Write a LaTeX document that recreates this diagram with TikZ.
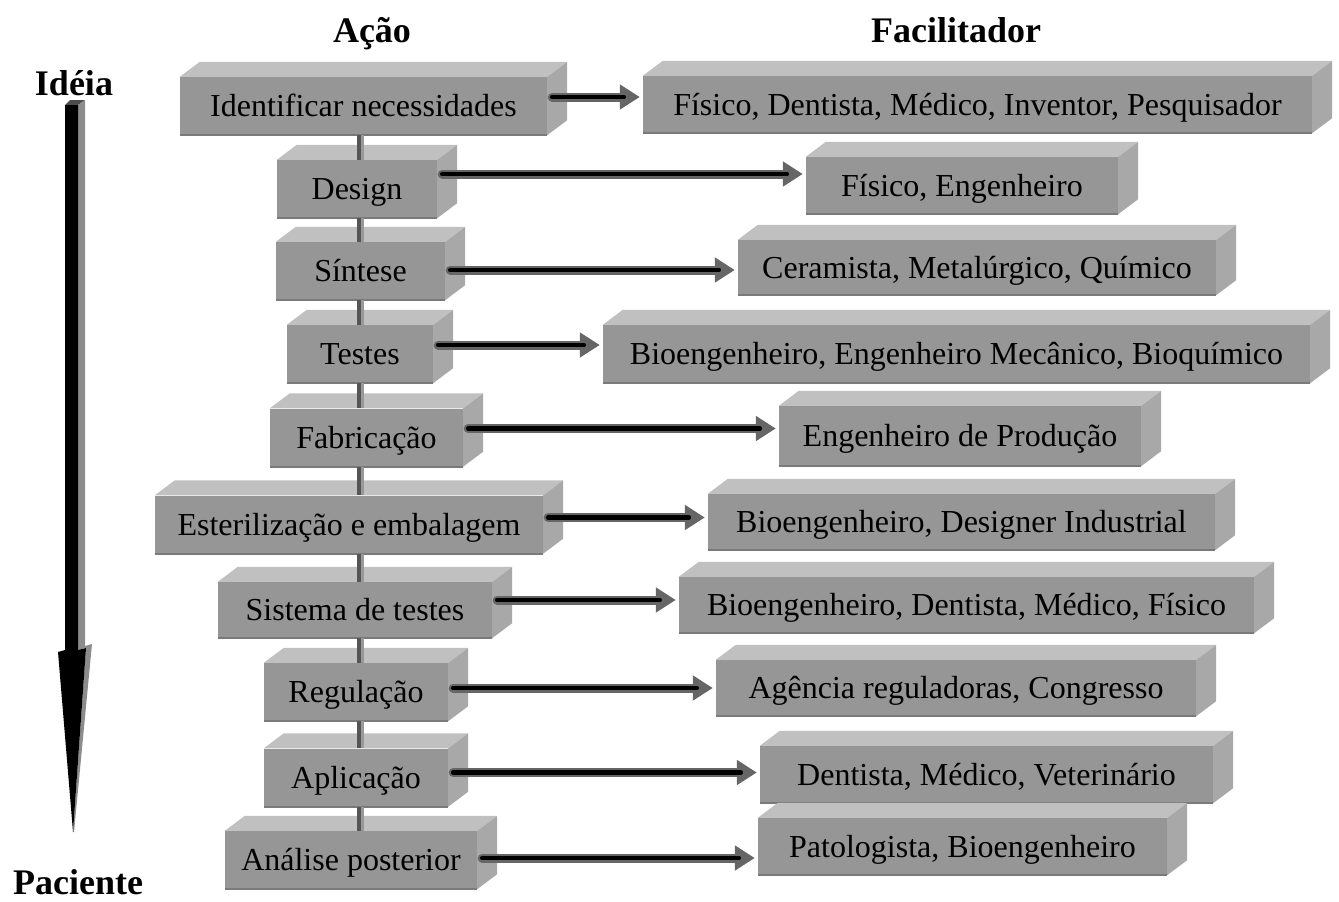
\documentclass[tikz,border=0pt]{standalone}
\usepackage{fontspec}
\setmainfont{Liberation Serif}
\usetikzlibrary{arrows.meta,calc}

\definecolor{frente}{HTML}{969696}
\definecolor{topo}{HTML}{C0C0C0}
\definecolor{lado}{HTML}{A8A8A8}
\definecolor{borda}{HTML}{7A7A7A}
\definecolor{haste}{HTML}{555555}

\tikzset{
  caixa/.style={fill=frente, inner sep=0pt, minimum height=58pt, text height=21pt, text depth=0pt, font=\fontsize{32}{38}\selectfont},
  titulo/.style={anchor=base, font=\bfseries\fontsize{36}{43}\selectfont},
  ligacao/.style={line width=7pt, draw=haste, postaction={draw=black!40, line width=2.5pt, transform canvas={xshift=2.5pt}}},
  seta/.style={line width=9pt, draw=black!60, line cap=round, -{Triangle[length=20pt,width=24pt]}, postaction={draw=black, line width=4.5pt, -, shorten >=16pt}}
}

\begin{document}
\begin{tikzpicture}[x=1pt, y=-1pt]
    \useasboundingbox (0,0) rectangle (1339,902);

    % Titulos
    \node[titulo] (acao) at (372,42) {Ação};
    \node[titulo] (facil) at (956,42) {Facilitador};
    \node[titulo] (ideia) at (74,95) {Idéia};
    \node[titulo] (paciente) at (78,894) {Paciente};

    % Seta grande (Idéia -> Paciente)
    \fill[black!70] (65,105) -- (70,100) -- (85,100) -- (78,105) -- cycle;
    \fill[black!45] (78,105) -- (85,100) -- (85,646) -- (92,644) -- (74,832) -- (73,832) -- (86,648) -- (78,650) -- cycle;
    \fill[black] (65,105) -- (78,105) -- (78,650) -- (86,648) -- (73,832) -- (58,652) -- (65,650) -- cycle;

    % Acoes
    \node[caixa, minimum width=367pt] (a1) at (363.5,106) {Identificar necessidades};
    \node[caixa, minimum width=160pt] (a2) at (357,189) {Design};
    \node[caixa, minimum width=169pt] (a3) at (360.5,271) {Síntese};
    \node[caixa, minimum width=146pt] (a4) at (360,354) {Testes};
    \node[caixa, minimum width=193pt] (a5) at (366.5,437.5) {Fabricação};
    \node[caixa, minimum width=388pt] (a6) at (349,524.5) {Esterilização e embalagem};
    \node[caixa, minimum width=274pt, minimum height=56pt] (a7) at (355,610) {Sistema de testes};
    \node[caixa, minimum width=184pt] (a8) at (356,692) {Regulação};
    \node[caixa, minimum width=184pt] (a9) at (356,777.5) {Aplicação};
    \node[caixa, minimum width=252pt] (a10) at (351,860) {Análise posterior};

    % Facilitadores
    \node[caixa, minimum width=669pt, minimum height=57pt] (f1) at (977.5,104.5) {Físico, Dentista, Médico, Inventor, Pesquisador};
    \node[caixa, minimum width=312pt, minimum height=57pt] (f2) at (962,185.5) {Físico, Engenheiro};
    \node[caixa, minimum width=478pt, minimum height=55pt] (f3) at (977,267.5) {Ceramista, Metalúrgico, Químico};
    \node[caixa, minimum width=707pt] (f4) at (956.5,354) {Bioengenheiro, Engenheiro Mecânico, Bioquímico};
    \node[caixa, minimum width=362pt, minimum height=60pt] (f5) at (960,436) {Engenheiro de Produção};
    \node[caixa, minimum width=507pt, minimum height=56pt] (f6) at (961.5,522) {Bioengenheiro, Designer Industrial};
    \node[caixa, minimum width=575pt, minimum height=56pt] (f7) at (966.5,605) {Bioengenheiro, Dentista, Médico, Físico};
    \node[caixa, minimum width=480pt, minimum height=56pt] (f8) at (956,688) {Agência reguladoras, Congresso};
    \node[caixa, minimum width=453pt, minimum height=57pt] (f9) at (986.5,774.5) {Dentista, Médico, Veterinário};
    \node[caixa, minimum width=409pt, minimum height=57pt] (f10) at (962.5,846.5) {Patologista, Bioengenheiro};

    % Faces de cima e do lado
    \foreach \i in {1,...,10}{
      \foreach \n in {a\i,f\i}{
        \fill[topo] (\n.north west) -- ++(20,-15) -- ($(\n.north east)+(20,-15)$) -- (\n.north east) -- cycle;
        \fill[lado] (\n.north east) -- ++(20,-15) -- ($(\n.south east)+(20,-15)$) -- (\n.south east) -- cycle;
        \draw[borda, line width=2pt] (\n.south west) -- (\n.south east);
      }
    }

    % Ligacoes entre as acoes
    \coordinate (eixo) at (360,0);
    \foreach \i [evaluate=\i as \j using int(\i+1)] in {1,...,9}
      \draw[ligacao] (a\i.south -| eixo) -- (a\j.north -| eixo);

    % Setas acao -> facilitador
    \foreach \i/\dy in {1/-9,2/-15,3/-1,4/-9,5/-9,6/-7,7/-10,8/-4,9/-5,10/-2}
      \draw[seta] ($(a\i.east)+(5,\dy)$) -- ($(a\i.east -| f\i.west)+(-3,\dy)$);
\end{tikzpicture}
\end{document}
